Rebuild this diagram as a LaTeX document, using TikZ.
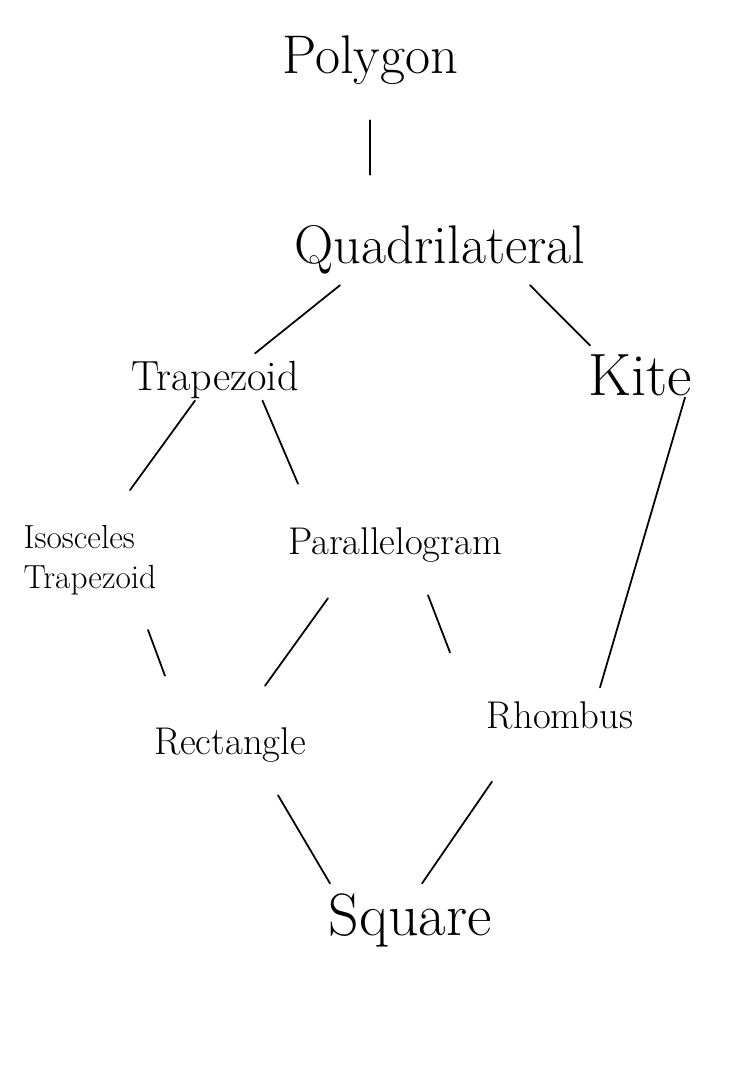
\documentclass[tikz,border=0pt]{standalone}
\usepackage{fontspec}
\begin{document}
\begin{tikzpicture}[
    bigword/.style={font=\fontsize{31}{35}\selectfont, inner sep=2pt},
    midword/.style={font=\fontsize{22}{26}\selectfont, inner sep=2pt},
    smallword/.style={font=\fontsize{19}{23}\selectfont, inner sep=2pt, align=left},
    link/.style={line width=1pt, line cap=round}]
    \useasboundingbox (0,0) rectangle (14.84,-21.3);
    % the names
    \node[bigword] (poly) at (7.4,-1.2) {Polygon};
    \node[bigword] (quad) at (8.8,-5.0) {Quadrilateral};
    \node[midword, font=\fontsize{24}{28}\selectfont] (trap) at (4.3,-7.6) {Trapezoid};
    \node[bigword, font=\fontsize{34}{38}\selectfont] (kite) at (12.8,-7.5) {Kite};
    \node[smallword] (isos) at (1.8,-11.2) {Isosceles\\ Trapezoid};
    \node[midword] (para) at (7.9,-10.9) {Parallelogram};
    \node[midword] (rhom) at (11.2,-14.3) {Rhombus};
    \node[midword] (rect) at (4.6,-14.9) {Rectangle};
    \node[bigword, font=\fontsize{34}{38}\selectfont] (sq) at (8.2,-18.4) {Square};
    % the lines between them
    \draw[link] ([yshift=-0.64cm]poly.south) -- ([yshift=0.94cm]poly.south |- quad.north);
    \draw[link] ([xshift=-2cm,yshift=-0.14cm]quad.south) -- ([xshift=0.8cm,yshift=0.08cm]trap.north);
    \draw[link] ([xshift=1.8cm,yshift=-0.14cm]quad.south) -- ([xshift=-1cm,yshift=0.1cm]kite.north);
    \draw[link] ([xshift=-0.4cm,yshift=0.04cm]trap.south) -- ([xshift=0.8cm,yshift=0.62cm]isos.north);
    \draw[link] ([xshift=0.95cm,yshift=0.04cm]trap.south) -- ([xshift=-1.94cm,yshift=0.8cm]para.north);
    \draw[link] ([xshift=0.9cm,yshift=0.04cm]kite.south) -- ([xshift=0.8cm,yshift=0.2cm]rhom.north);
    \draw[link] ([xshift=1.16cm,yshift=-0.62cm]isos.south) -- ([xshift=-1.3cm,yshift=0.96cm]rect.north);
    \draw[link] ([xshift=-1.34cm,yshift=-0.64cm]para.south) -- ([xshift=0.7cm,yshift=0.76cm]rect.north);
    \draw[link] ([xshift=0.66cm,yshift=-0.58cm]para.south) -- ([xshift=-2.2cm,yshift=0.9cm]rhom.north);
    \draw[link] ([xshift=0.96cm,yshift=-0.58cm]rect.south) -- ([xshift=-1.6cm,yshift=0.12cm]sq.north);
    \draw[link] ([xshift=-1.36cm,yshift=-0.98cm]rhom.south) -- ([xshift=0.24cm,yshift=0.12cm]sq.north);
\end{tikzpicture}
\end{document}
